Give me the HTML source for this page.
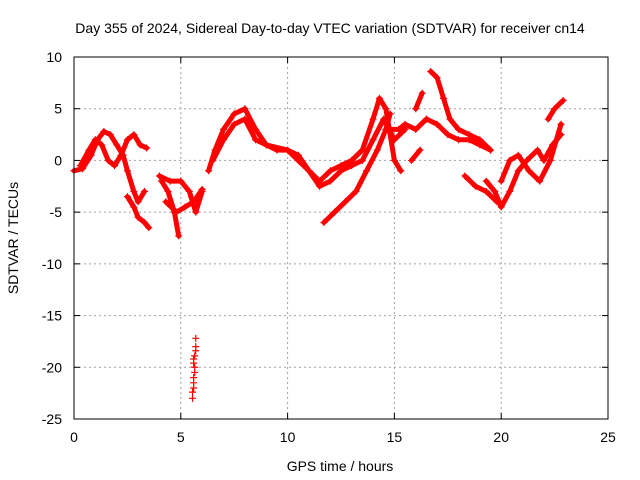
<!DOCTYPE html>
<html><head><meta charset="utf-8"><style>
body{margin:0;background:#fff}
svg{display:block;font-family:"Liberation Sans",sans-serif}
</style></head><body>
<svg id="c" width="640" height="480">
<rect width="640" height="480" fill="#fff"/>
<text x="330" y="33" font-size="14" text-anchor="middle">Day 355 of 2024, Sidereal Day-to-day VTEC variation (SDTVAR) for receiver cn14</text>
<text x="340" y="471" font-size="14" text-anchor="middle">GPS time / hours</text>
<text transform="translate(18,238) rotate(-90)" font-size="14" text-anchor="middle">SDTVAR / TECUs</text>
<g id="grid"></g><g id="ticks"></g><g id="data"></g>
<rect x="74" y="57" width="534" height="362" fill="none" stroke="#000"/>
</svg>
<script>
const xTicks=[0,5,10,15,20,25];
const yTicks=[10,5,0,-5,-10,-15,-20,-25];
const trackA=[[0,-1],[0.4,-0.8],[0.8,0.5],[1.1,2],[1.4,2.8],[1.7,2.5],[2.0,1.5],[2.3,0.5],[2.5,-1],[2.8,-3],[3.0,-4],[3.3,-3]];
const trackB=[[0.3,-0.5],[0.7,1],[1.0,2.0],[1.3,1.5],[1.6,0],[1.9,-0.5],[2.2,0.5],[2.5,2.0],[2.8,2.5],[3.1,1.5],[3.4,1.2]];
const trackC=[[2.5,-3.5],[2.8,-4.5],[3.0,-5.5],[3.3,-6],[3.5,-6.5]];
const trackD1=[[4.1,-2],[4.4,-3],[4.7,-5],[4.9,-7.3]];
const trackD2=[[4.0,-1.5],[4.5,-2],[5.0,-2],[5.4,-3],[5.7,-5],[6.0,-3]];
const trackD3=[[4.3,-4],[4.8,-5],[5.2,-4.5],[5.6,-4],[6.0,-2.8]];
const trackE=[[5.55,-23],[5.55,-22.4],[5.6,-22],[5.6,-21.5],[5.6,-21],[5.65,-20.5],[5.65,-20],[5.6,-19.6],[5.6,-19.2],[5.65,-18.9],[5.7,-18.4],[5.7,-18],[5.7,-17.2]];
const trackF=[[6.3,-1],[6.6,1],[7,3],[7.5,4.5],[8,5],[8.5,3],[9,1.5],[9.5,1],[10,1],[10.5,0.5],[11,-1],[11.5,-2],[12,-1],[12.5,-0.5],[13,0],[13.5,1],[14,4],[14.3,6],[14.6,5],[15,0],[15.3,-1]];
const trackG=[[6.5,0],[7,2],[7.5,3.5],[8,4],[8.5,2],[9,1.5],[10,1],[10.5,0],[11,-1],[11.5,-2.5],[12,-2],[12.5,-1],[13,-0.5],[13.5,0],[14,2],[14.5,4],[15,2],[15.5,3]];
const trackH=[[11.7,-6],[12.2,-5],[12.7,-4],[13.2,-3],[13.7,-1],[14.2,1],[14.6,3],[14.8,4.5]];
const trackI=[[14.8,3],[15.2,3],[15.5,3.5],[16,3],[16.5,4],[17,3.5],[17.5,2.5],[18,2],[18.5,2],[19,1.5],[19.5,1]];
const trackJ1=[[16,5],[16.3,6.5]];
const trackJ2=[[16.7,8.6],[17,8],[17.3,6],[17.6,4],[18,3],[18.5,2.5],[19,2],[19.5,1]];
const trackK1=[[15.8,0],[16.2,1]];
const trackK2=[[18.3,-1.5],[18.8,-2.5],[19.3,-3],[19.8,-4]];
const trackL=[[19.3,-2],[19.7,-3],[20,-4.5],[20.4,-3],[20.8,-1],[21.2,0],[21.7,1],[22,0],[22.4,1.5],[22.8,2.5]];
const trackM=[[20,-2],[20.4,0],[20.8,0.5],[21.3,-1],[21.8,-2],[22.3,0],[22.8,3.5]];
const trackN=[[22.2,4],[22.5,5],[22.9,5.8]];
const tracks=[trackA,trackB,trackC,trackD1,trackD2,trackD3,trackE,trackF,trackG,trackH,trackI,trackJ1,trackJ2,trackK1,trackK2,trackL,trackM,trackN];

const X=v=>74+v*(534/25);
const Y=v=>57+(10-v)*(362/35);
const NS="http://www.w3.org/2000/svg";
function mk(t,a,p){const e=document.createElementNS(NS,t);for(const k in a)e.setAttribute(k,a[k]);p.appendChild(e);return e;}
const grid=document.getElementById('grid'),ticks=document.getElementById('ticks'),data=document.getElementById('data');
xTicks.forEach(v=>{
  const x=X(v);
  if(v>0&&v<25){const g=mk('line',{x1:x,x2:x,y1:57,y2:419,stroke:'#a0a0a0','stroke-dasharray':'2,3'},grid);
  
  }
  const t=mk('text',{x:x,y:442,'font-size':14,'text-anchor':'middle'},ticks);t.textContent=v;
  
  
  mk('line',{x1:x,x2:x,y1:419,y2:413,stroke:'#000'},ticks);mk('line',{x1:x,x2:x,y1:57,y2:63,stroke:'#000'},ticks);
});
yTicks.forEach(v=>{
  const y=Y(v);
  if(v<10&&v>-25){const g=mk('line',{x1:74,x2:608,y1:y,y2:y,stroke:'#a0a0a0','stroke-dasharray':'2,3'},grid);
  
  }
  const t=mk('text',{x:62,y:y+5,'font-size':14,'text-anchor':'end'},ticks);t.textContent=v;
  
  
  mk('line',{x1:74,x2:80,y1:y,y2:y,stroke:'#000'},ticks);mk('line',{x1:608,x2:602,y1:y,y2:y,stroke:'#000'},ticks);
});
tracks.forEach((tr,i)=>{
  if(tr!==trackE){
    const pl=mk('polyline',{points:tr.map(p=>X(p[0])+','+Y(p[1])).join(' '),fill:'none',stroke:'#ff0000','stroke-width':5,'stroke-linejoin':'round','stroke-linecap':'round'},data);
    
    
  }
  tr.forEach(p=>{
    const x=X(p[0]),y=Y(p[1]);
    const m=mk('path',{d:`M${x-3.5},${y}H${x+3.5}M${x},${y-3.5}V${y+3.5}`,stroke:'#ff0000','stroke-width':1.2},data);
    
    
  });
});
</script>
</body></html>
